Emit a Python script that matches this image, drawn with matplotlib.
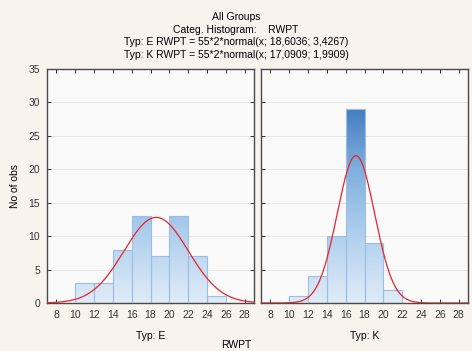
import numpy as np
import matplotlib
matplotlib.use("Agg")
import matplotlib.pyplot as plt
from matplotlib.colors import LinearSegmentedColormap

# histogram data (bin width 2)
bin_edges = [10, 12, 14, 16, 18, 20, 22, 24, 26]
counts_e = [3, 3, 8, 13, 7, 13, 7, 1]
counts_k = [1, 4, 10, 29, 9, 2, 0, 0]
n_total = 55
mean_e, sd_e = 18.6036, 3.4267
mean_k, sd_k = 17.0909, 1.9909
xticks = [8, 10, 12, 14, 16, 18, 20, 22, 24, 26, 28]
yticks = [0, 5, 10, 15, 20, 25, 30, 35]

plt.rcParams["font.family"] = ["Liberation Sans", "DejaVu Sans"]
plt.rcParams["font.size"] = 7.5

bg = "#f7f4ee"
cmap = LinearSegmentedColormap.from_list("blu", ["#e0ecf8", "#b0d0ee", "#80b0de", "#3f78bf"])

fig = plt.figure(figsize=(4.72, 3.51), dpi=100, facecolor=bg)
ax1 = fig.add_axes([47/472, 1-303/351, 207/472, 234/351])
ax2 = fig.add_axes([261/472, 1-303/351, 207/472, 234/351])


def draw(ax, counts, mu, sd, label, left):
    ax.set_facecolor("#fafafb")
    ax.set_xlim(7, 29)
    ax.set_ylim(0, 35)
    grad = np.linspace(0, 1, 256).reshape(-1, 1)
    for i, c in enumerate(counts):
        if c == 0:
            continue
        x0, x1 = bin_edges[i], bin_edges[i+1]
        im = ax.imshow(grad, cmap=cmap, vmin=0, vmax=1, aspect="auto", origin="lower",
                       extent=[x0, x1, 0, 30], zorder=2)
        rect = plt.Rectangle((x0, 0), x1-x0, c, transform=ax.transData)
        im.set_clip_path(rect)
        ax.add_patch(plt.Rectangle((x0, 0), x1-x0, c, fill=False,
                                   edgecolor="#9dbde2", lw=0.8, zorder=3))
    xs = np.linspace(7, 29, 400)
    ys = n_total*2*np.exp(-0.5*((xs-mu)/sd)**2)/(sd*np.sqrt(2*np.pi))
    ax.plot(xs, ys, color="#e8242c", lw=0.9, zorder=4)
    ax.set_xticks(xticks)
    ax.set_yticks(yticks)
    ax.grid(axis="y", color="#e6e6e6", lw=0.7, zorder=0)
    ax.set_axisbelow(True)
    ax.tick_params(direction="in", length=3, width=0.7, top=True,
                   right=left, left=True, labelleft=left, colors="#333333",
                   labelsize=7.5, pad=5)
    for s in ax.spines.values():
        s.set_color("#4a4a4a")
        s.set_linewidth(1.0)
    ax.set_xlabel(label, fontsize=7.5, labelpad=8)


draw(ax1, counts_e, mean_e, sd_e, "Typ: E", True)
draw(ax2, counts_k, mean_k, sd_k, "Typ: K", False)
ax1.set_ylabel("No of obs", fontsize=7.5, labelpad=6)

fig.text(0.5, 1-17/351, "All Groups", ha="center", va="center", fontsize=7.5)
fig.text(0.5, 1-30/351, "Categ. Histogram:    RWPT", ha="center", va="center", fontsize=7.5)
fig.text(0.5, 1-42/351, "Typ: E RWPT = 55*2*normal(x; 18,6036; 3,4267)", ha="center", va="center", fontsize=7.5)
fig.text(0.5, 1-55/351, "Typ: K RWPT = 55*2*normal(x; 17,0909; 1,9909)", ha="center", va="center", fontsize=7.5)
fig.text(0.5, 1-345/351, "RWPT", ha="center", va="center", fontsize=7.5)

fig.savefig("out.png", dpi=100, facecolor=bg)
